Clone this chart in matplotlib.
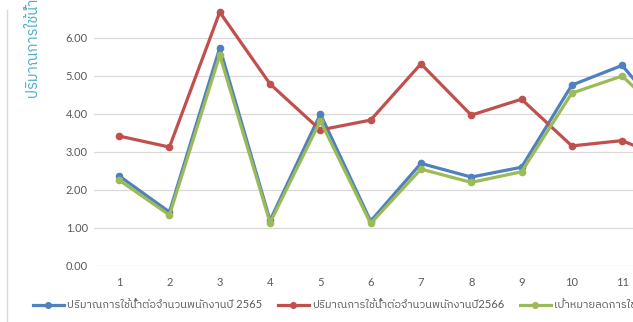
import matplotlib
matplotlib.use('Agg')
import matplotlib.pyplot as plt
from matplotlib import font_manager
from matplotlib.ft2font import FT2Font
from matplotlib.lines import Line2D
from matplotlib.ticker import FormatStrFormatter


def find_thai_font():
    # first installed face that actually has Thai glyphs
    hits = []
    for path in font_manager.findSystemFonts():
        try:
            if 0x0E1B in FT2Font(path).get_charmap():
                hits.append(font_manager.FontProperties(fname=path).get_name())
        except Exception:
            pass
    for name in hits:
        if 'Sans' in name:
            return name
    return hits[0] if hits else 'DejaVu Sans'


thai = find_thai_font()
plt.rcParams['font.family'] = ['Lato', thai, 'DejaVu Sans']

# data
months = [1, 2, 3, 4, 5, 6, 7, 8, 9, 10, 11, 12]
use2565 = [2.37, 1.42, 5.74, 1.20, 4.00, 1.18, 2.70, 2.34, 2.60, 4.76, 5.28, 3.70]
use2566 = [3.42, 3.13, 6.68, 4.79, 3.58, 3.84, 5.32, 3.97, 4.39, 3.16, 3.30, 2.75]
target = [2.26, 1.34, 5.55, 1.14, 3.82, 1.12, 2.55, 2.20, 2.48, 4.55, 5.00, 3.75]
names = ['ปริมาณการใช้น้ำต่อจำนวนพนักงานปี 2565',
         'ปริมาณการใช้น้ำต่อจำนวนพนักงานปี2566',
         'เป้าหมายลดการใช้น้ำ 5%']
ylab = 'ปริมาณการใช้น้ำ (ลบ.ม./คน)'
yticks = [0, 1, 2, 3, 4, 5, 6]

fig = plt.figure(figsize=(6.33, 3.22), dpi=100)
ax = fig.add_axes([94/633., 56/322., 603.6/633., 273.6/322.])

ax.plot(months, use2565, '-o', color='#4f81bd', lw=2.3, ms=4.5, label=names[0])
ax.plot(months, use2566, '-o', color='#c0504d', lw=2.3, ms=4.5, label=names[1])
ax.plot(months, target, '-o', color='#9bbb59', lw=2.3, ms=4.5, label=names[2])

ax.set_xlim(0.5, 12.5)
ax.set_ylim(0, 7.2)
ax.set_xticks(months[:11])
ax.set_yticks(yticks)
ax.yaxis.set_major_formatter(FormatStrFormatter('%.2f'))
ax.set_axisbelow(True)
ax.yaxis.grid(True, color='#d9d9d9', lw=0.9)
for s in ax.spines.values():
    s.set_visible(False)
ax.tick_params(length=0, colors='#595959', labelsize=8)
ax.tick_params(axis='y', pad=4.5)
ax.tick_params(axis='x', pad=8)

fig.text(33/633., 1 - 98/322., ylab, rotation=90, ha='center', va='bottom',
         color='#4bacc6', fontsize=10.5)

# chart area edge on the left
fig.add_artist(Line2D([7.5/633., 7.5/633.], [0, 312/322.], transform=fig.transFigure,
                      color='#d9d9d9', lw=1))

fig.legend(loc='center left', bbox_to_anchor=(27/633., 1 - 305/322.), ncol=3,
           frameon=False, fontsize=8.0, labelcolor='#595959', borderpad=0,
           handlelength=2.8, handletextpad=0.3, columnspacing=1.4,
           markerscale=0.9)

fig.savefig('out.png', dpi=100)
